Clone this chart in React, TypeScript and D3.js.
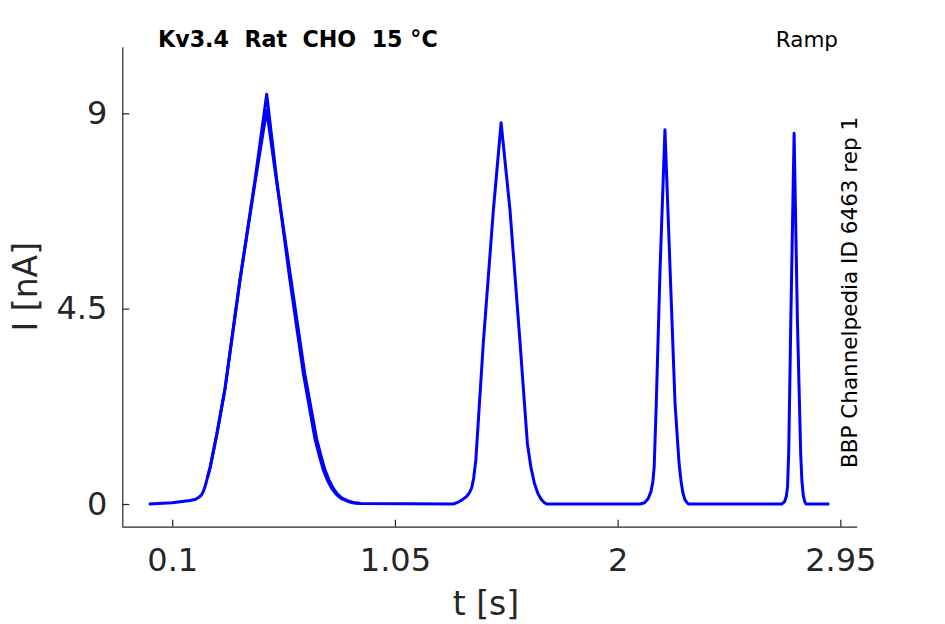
import { useEffect, useRef } from "react";
import * as d3 from "d3";

// trace of rep 1 (t in s, I in nA)
const timeA = [
  0.0, 0.1, 0.176, 0.2, 0.215, 0.225, 0.232, 0.24, 0.25, 0.262, 0.29, 0.325, 0.389, 0.453, 0.503,
  0.546, 0.602, 0.659, 0.709, 0.728, 0.745, 0.762, 0.78, 0.8, 0.82, 0.845, 0.87, 0.901, 1.299, 1.315,
  1.335, 1.355, 1.368, 1.378, 1.386, 1.395, 1.427, 1.47, 1.503, 1.541, 1.584, 1.615, 1.63, 1.645, 1.66,
  1.675, 1.688, 1.698, 2.096, 2.115, 2.13, 2.142, 2.15, 2.156, 2.165, 2.181, 2.202, 2.224, 2.245, 2.262,
  2.27, 2.278, 2.287, 2.296, 2.302, 2.7, 2.712, 2.72, 2.725, 2.73, 2.739, 2.753, 2.767, 2.781, 2.786,
  2.792, 2.798, 2.804, 2.903,
];
const currentA = [
  0, 0.03, 0.08, 0.11, 0.16, 0.21, 0.28, 0.4, 0.6, 0.85, 1.6, 2.65, 5.16, 7.46, 9.44,
  7.46, 5.16, 3.02, 1.5, 1.1, 0.78, 0.55, 0.36, 0.22, 0.13, 0.07, 0.03, 0.01, 0, 0.03,
  0.09, 0.17, 0.26, 0.38, 0.6, 1.0, 3.7, 6.77, 8.78, 6.77, 3.7, 1.4, 0.85, 0.48, 0.24,
  0.1, 0.03, 0, 0, 0.03, 0.12, 0.28, 0.5, 0.85, 2.32, 5.39, 8.62, 5.39, 2.32, 0.95,
  0.55, 0.27, 0.1, 0.03, 0, 0, 0.05, 0.18, 0.4, 1.2, 4.24, 8.54, 4.24, 1.17, 0.55,
  0.2, 0.06, 0, 0,
];

// second sweep overlapping the first ramp
const timeB = [
  0.25, 0.262, 0.29, 0.325, 0.389, 0.453, 0.503, 0.546, 0.607, 0.665, 0.716, 0.735, 0.752, 0.769, 0.787,
  0.806, 0.826, 0.85, 0.875, 0.905,
];
const currentB = [
  0.6, 0.85, 1.6, 2.65, 5.16, 7.4, 9.07, 7.4, 5.16, 3.02, 1.5, 1.1, 0.78, 0.55, 0.36,
  0.22, 0.13, 0.07, 0.03, 0.01,
];

const xTicks = [0.1, 1.05, 2, 2.95];
const yTicks = [0, 4.5, 9];

const title = "Kv3.4  Rat  CHO  15 °C";
const protocol = "Ramp";
const source = "BBP Channelpedia ID 6463 rep 1";

export default function App() {
  const svgRef = useRef<SVGSVGElement>(null);

  useEffect(() => {
    if (!svgRef.current) return;
    const svg = d3.select(svgRef.current);
    svg.selectAll("*").remove();

    const width = 945;
    const height = 624;
    const margin = { top: 46.7, right: 88.3, bottom: 97.3, left: 122.3 };
    const font = "'DejaVu Sans', sans-serif";
    const ink = "#262626";

    const x = d3.scaleLinear().domain([-0.113, 3.02]).range([margin.left, width - margin.right]);
    const y = d3.scaleLinear().domain([-0.523, 10.534]).range([height - margin.bottom, margin.top]);

    const line = d3
      .line<number>()
      .x((_, i) => x(timeA[i]))
      .y((d) => y(d));
    const lineB = d3
      .line<number>()
      .x((_, i) => x(timeB[i]))
      .y((d) => y(d));

    svg
      .append("path")
      .attr("d", lineB(currentB))
      .attr("fill", "none")
      .attr("stroke", "#0000ff")
      .attr("stroke-width", 3)
      .attr("stroke-linejoin", "round");

    svg
      .append("path")
      .attr("d", line(currentA))
      .attr("fill", "none")
      .attr("stroke", "#0000ff")
      .attr("stroke-width", 3)
      .attr("stroke-linejoin", "round");

    const xAxis = svg
      .append("g")
      .attr("transform", `translate(0,${height - margin.bottom})`)
      .call(
        d3
          .axisBottom(x)
          .tickValues(xTicks)
          .tickFormat((d) => String(d))
          .tickSizeInner(-7)
          .tickSizeOuter(0)
          .tickPadding(22)
      );

    const yAxis = svg
      .append("g")
      .attr("transform", `translate(${margin.left},0)`)
      .call(
        d3
          .axisLeft(y)
          .tickValues(yTicks)
          .tickFormat((d) => String(d))
          .tickSizeInner(-7)
          .tickSizeOuter(0)
          .tickPadding(15)
      );

    [xAxis, yAxis].forEach((g) => {
      g.select(".domain").attr("stroke", ink).attr("stroke-width", 1.2);
      g.selectAll(".tick line").attr("stroke", ink).attr("stroke-width", 1.2);
      g.selectAll(".tick text")
        .attr("fill", ink)
        .style("font-family", font)
        .style("font-size", "32px");
    });

    svg
      .append("text")
      .attr("x", 486)
      .attr("y", 615)
      .attr("text-anchor", "middle")
      .style("font-family", font)
      .style("font-size", "33px")
      .attr("fill", ink)
      .text("t [s]");

    svg
      .append("text")
      .attr("transform", `translate(37,${(margin.top + height - margin.bottom) / 2}) rotate(-90)`)
      .attr("text-anchor", "middle")
      .style("font-family", font)
      .style("font-size", "33px")
      .attr("fill", ink)
      .text("I [nA]");

    svg
      .append("text")
      .attr("x", 158)
      .attr("y", 47)
      .style("font-family", font)
      .style("font-size", "22.2px")
      .style("font-weight", "bold")
      .style("white-space", "pre")
      .attr("fill", "#000")
      .text(title);

    svg
      .append("text")
      .attr("x", 838)
      .attr("y", 47)
      .attr("text-anchor", "end")
      .style("font-family", font)
      .style("font-size", "21.5px")
      .attr("fill", "#000")
      .text(protocol);

    svg
      .append("text")
      .attr("transform", `translate(857,468) rotate(-90)`)
      .style("font-family", font)
      .style("font-size", "21.5px")
      .attr("fill", "#000")
      .text(source);
  }, []);

  return (
    <svg
      ref={svgRef}
      width={945}
      height={624}
      style={{ position: "absolute", left: 0, top: 0, background: "#fff" }}
    />
  );
}
